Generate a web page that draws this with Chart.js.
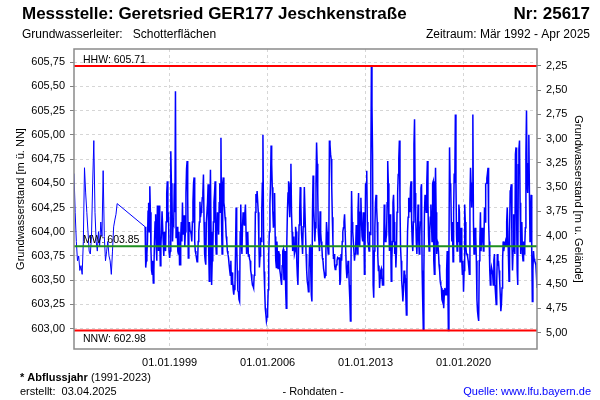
<!DOCTYPE html>
<html>
<head>
<meta charset="utf-8">
<script src="https://cdn.jsdelivr.net/npm/chart.js@4.4.1/dist/chart.umd.min.js"></script>
<style>
  body { margin: 0; background: #fff; }
</style>
</head>
<body>
<canvas id="myChart" width="600" height="400"></canvas>
<script>
// Grundwasserstand in cm über 603,00 m ü. NN
const baseLevel = 603.0;
// 1992-1995: monatliche Ablesung
const earlyStart = 1992 + 2 / 12;   // Mär 1992
const earlyCm = [160,120,90,70,75,60,65,56,90,166,140,120,100,80,77,95,150,194,120,90,
  80,100,85,110,95,163,95,70,80,90,75,70,56,80,105,112,118,129];
// ab Apr 1997: halbmonatliche Ablesung
const mainStart = 1997 + 3 / 12;
const mainCm = [
  105,63,70,77,90,121,130,100,147,120,80,60,56,70,47,60,90,110,118,85,
  70,127,110,80,127,95,65,85,100,121,121,90,75,100,90,80,110,140,152,110,
  120,80,73,80,183,150,140,90,110,108,150,120,245,94,95,105,80,77,100,66,
  66,95,110,90,130,97,97,117,85,100,140,165,173,135,73,100,110,101,100,97,
  90,110,130,150,156,90,80,77,73,69,70,90,100,110,131,115,120,125,135,140,
  159,110,77,70,66,110,110,130,149,80,49,120,164,100,45,70,77,110,130,140,
  152,90,77,100,120,110,97,130,150,120,197,110,77,150,156,130,125,115,110,95,
  90,80,77,73,66,60,55,70,45,58,50,40,35,43,42,80,125,90,60,39,
  38,30,28,100,128,90,77,105,120,110,107,118,128,100,77,90,100,75,77,72,
  70,60,56,50,45,44,42,55,63,120,139,130,142,142,120,90,63,75,94,90,
  121,150,200,105,59,40,21,15,8,12,18,40,77,100,128,150,189,170,146,120,
  104,120,140,95,70,63,90,75,62,80,77,60,56,50,45,65,80,82,50,65,
  80,40,21,90,121,140,152,130,115,150,170,120,100,80,90,95,77,80,105,100,
  70,55,45,80,107,120,146,130,100,90,77,105,107,146,146,100,77,60,49,45,
  38,60,84,85,60,35,28,120,158,125,110,90,104,150,192,170,140,100,90,80,
  121,100,90,85,73,70,62,58,52,55,80,110,100,85,77,90,194,190,180,175,
  146,115,90,72,77,65,61,62,66,70,73,72,73,73,45,50,77,70,90,100,
  104,110,118,100,100,62,52,60,70,65,45,30,8,60,142,110,100,90,90,70,
  77,82,107,90,77,120,140,90,85,120,135,110,95,90,120,110,56,80,149,150,
  163,110,90,85,80,100,97,160,271,230,180,45,32,80,104,130,138,125,110,75,
  60,65,42,52,60,62,56,45,45,70,128,110,90,92,97,130,173,150,100,80,
  118,100,49,70,90,130,138,110,77,90,63,80,120,140,159,175,194,130,84,70,
  49,40,28,40,60,50,52,35,14,60,100,115,135,130,120,145,152,110,90,80,
  110,190,216,140,115,90,77,100,128,95,77,95,110,145,149,60,28,-1,60,120,
  138,130,120,150,173,130,95,80,100,115,128,110,90,150,152,70,56,130,166,120,
  77,90,87,80,66,60,49,45,42,30,28,40,21,35,42,38,35,60,80,50,
  -2,80,187,150,149,110,90,110,69,120,160,150,221,150,97,80,110,90,128,120,
  69,90,104,70,56,70,38,60,128,110,85,77,77,74,70,64,56,130,166,145,
  125,150,221,110,77,90,104,95,70,30,18,12,8,70,90,120,80,80,104,95,
  80,90,125,110,149,150,155,160,166,110,90,60,45,55,63,60,56,45,70,77,
  45,35,25,50,77,65,70,60,49,35,18,25,42,70,90,80,85,87,90,85,
  110,125,125,75,49,100,142,145,149,90,60,80,118,95,77,180,187,120,60,45,
  169,185,194,130,77,95,110,77,70,90,77,85,104,180,225,150,140,170,200,140,
  90,110,138,80,28,60,80,72,70,68,66,55,42
];

const hhw = 605.71;
const mw = 603.85;
const nnw = 602.98;
const gelaende = 607.96;

const yearTicks = [1999, 2006, 2013, 2020];
const levelTicks = [603.00, 603.25, 603.50, 603.75, 604.00, 604.25, 604.50, 604.75, 605.00, 605.25, 605.50, 605.75];
const depthTicks = [2.25, 2.50, 2.75, 3.00, 3.25, 3.50, 3.75, 4.00, 4.25, 4.50, 4.75, 5.00];

const xMin = earlyStart;
const xMax = 2025.25;
const yMin = 602.79;
const yMax = 605.885;

const points = [];
earlyCm.forEach((c, i) => points.push({ x: earlyStart + i / 12, y: baseLevel + c / 100 }));
mainCm.forEach((c, i) => points.push({ x: mainStart + i / 24, y: baseLevel + c / 100 }));

const hLine = v => [{ x: xMin, y: v }, { x: xMax, y: v }];
const comma = v => Number(v).toFixed(2).replace('.', ',');
const FONT = "'Liberation Sans', Arial, sans-serif";
Chart.defaults.font.family = FONT;
Chart.defaults.color = '#000';

const decor = {
  id: 'decor',
  afterDatasetsDraw(chart) {
    const ctx = chart.ctx;
    const y = chart.scales.y;
    const left = chart.chartArea.left + 9;
    ctx.save();
    ctx.fillStyle = '#000';
    ctx.font = '10.5px ' + FONT;
    ctx.textAlign = 'left';
    ctx.textBaseline = 'bottom';
    ctx.fillText('HHW: ' + hhw.toFixed(2), left, y.getPixelForValue(hhw) - 1);
    ctx.fillText('MW: ' + mw.toFixed(2), left, y.getPixelForValue(mw) - 1);
    ctx.textBaseline = 'top';
    ctx.fillText('NNW: ' + nnw.toFixed(2), left, y.getPixelForValue(nnw) + 3);
    ctx.restore();
  },
  afterDraw(chart) {
    const ctx = chart.ctx;
    const a = chart.chartArea;
    ctx.save();
    // Rahmen
    ctx.strokeStyle = '#8a8a8a';
    ctx.lineWidth = 1.5;
    ctx.strokeRect(a.left, a.top, a.right - a.left, a.bottom - a.top);

    ctx.fillStyle = '#000';
    ctx.textBaseline = 'alphabetic';
    ctx.font = 'bold 17px ' + FONT;
    ctx.textAlign = 'left';
    ctx.fillText('Messstelle: Geretsried GER177 Jeschkenstraße', 22, 19, 385);
    ctx.textAlign = 'right';
    ctx.fillText('Nr: 25617', 590, 19, 80);

    ctx.font = '12px ' + FONT;
    ctx.textAlign = 'left';
    ctx.fillText('Grundwasserleiter:   Schotterflächen', 22, 38, 199);
    ctx.textAlign = 'right';
    ctx.fillText('Zeitraum: Mär 1992 - Apr 2025', 590, 38, 166);

    ctx.textAlign = 'left';
    ctx.font = 'bold 11px ' + FONT;
    ctx.fillText('* Abflussjahr', 20, 381);
    const w = ctx.measureText('* Abflussjahr ').width;
    ctx.font = '11px ' + FONT;
    ctx.fillText('(1991-2023)', 20 + w, 381);
    ctx.fillText('erstellt:  03.04.2025', 20, 395);
    ctx.textAlign = 'center';
    ctx.fillText('- Rohdaten -', 313, 395);
    ctx.textAlign = 'right';
    ctx.fillStyle = '#0000ff';
    ctx.fillText('Quelle: www.lfu.bayern.de', 591, 395);
    ctx.restore();
  }
};

const ctx = document.getElementById('myChart').getContext('2d');
const myChart = new Chart(ctx, {
  type: 'line',
  data: {
    datasets: [
      {
        label: 'Grundwasserstand', data: points, borderColor: '#0000ff', borderWidth: 1.5, order: 3,
        // frühe Monatswerte und Messlücke dünner
        segment: { borderWidth: c => (c.p1.parsed.x < mainStart + 0.01 ? 1 : 1.5) }
      },
      { label: 'MW', data: hLine(mw), borderColor: '#1f8f1f', borderWidth: 2, order: 2 },
      { label: 'HHW', data: hLine(hhw), borderColor: '#ff0000', borderWidth: 2, order: 1 },
      { label: 'NNW', data: hLine(nnw), borderColor: '#ff0000', borderWidth: 2, order: 1 }
    ]
  },
  options: {
    responsive: false,
    animation: false,
    elements: { point: { radius: 0 }, line: { tension: 0 } },
    layout: { padding: { top: 49, left: 0, right: 0, bottom: 0 } },
    plugins: { legend: { display: false }, tooltip: { enabled: false } },
    scales: {
      x: {
        type: 'linear',
        min: xMin,
        max: xMax,
        afterBuildTicks: s => { s.ticks = yearTicks.map(v => ({ value: v })); },
        afterFit: s => { s.height = 51; },
        ticks: { callback: v => '01.01.' + v, font: { size: 11 }, padding: 7, maxRotation: 0, autoSkip: false },
        grid: { color: '#d6d6d6', drawTicks: false },
        border: { display: false, dash: [3, 3] }
      },
      y: {
        position: 'left',
        min: yMin,
        max: yMax,
        afterBuildTicks: s => { s.ticks = levelTicks.map(v => ({ value: v })); },
        afterFit: s => { s.width = 74; },
        ticks: { callback: v => comma(v), font: { size: 11 }, padding: 5 },
        grid: { color: '#d6d6d6', tickLength: 4, tickColor: '#808080', tickBorderDash: [] },
        border: { display: false, dash: [3, 3] },
        title: { display: true, text: 'Grundwasserstand [m ü. NN]', font: { size: 11 }, padding: { top: 14, bottom: 0 } }
      },
      y2: {
        position: 'right',
        reverse: true,
        min: gelaende - yMax,
        max: gelaende - yMin,
        afterBuildTicks: s => { s.ticks = depthTicks.map(v => ({ value: v })); },
        afterFit: s => { s.width = 63; },
        ticks: { callback: v => comma(v), font: { size: 11 }, padding: 5 },
        grid: { drawOnChartArea: false, tickLength: 4, tickColor: '#808080', tickBorderDash: [] },
        border: { display: false },
        title: { display: true, text: 'Grundwasserstand [m u. Gelände]', font: { size: 11 }, padding: { top: 15, bottom: 0 } }
      }
    }
  },
  plugins: [decor]
});
</script>
</body>
</html>
